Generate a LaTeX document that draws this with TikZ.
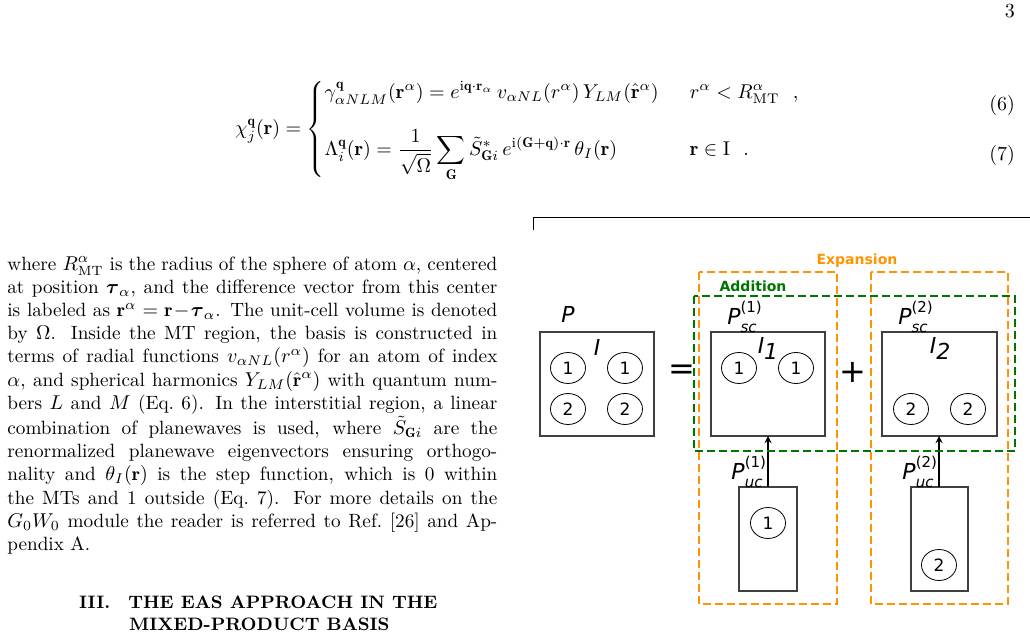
\documentclass[tikz,border=0pt]{standalone}
\usepackage{amsmath,amssymb}
\usepackage{fontspec}
\newfontfamily\dejavu{DejaVu Sans}
\usetikzlibrary{shapes.geometric}
\tikzset{
  cell/.style={draw=black!75, line width=0.6pt},
  atom/.style={draw, ellipse, minimum width=17.5pt, minimum height=15.5pt, inner sep=0pt, font=\dejavu\fontsize{8.5}{10}\selectfont},
  plab/.style={font=\dejavu\itshape\fontsize{11}{12}\selectfont, inner sep=0pt},
  expbox/.style={draw=orange!85!yellow, dashed, line width=1pt, dash pattern=on 4pt off 2pt},
  addbox/.style={draw=green!45!black, dashed, line width=1pt, dash pattern=on 4pt off 2pt},
}
\newcommand{\psub}[2]{P\rlap{\raisebox{1.0ex}{\upshape\fontsize{7.5}{8}\selectfont(#1)}}\raisebox{-0.6ex}{\fontsize{7.5}{8}\selectfont #2}}
\begin{document}
\begin{tikzpicture}[x=0.5pt, y=-0.5pt]
\useasboundingbox (0,0) rectangle (1030,641);
%page text
\node[anchor=base east] (pagenum) at (1022,18) {3};
\node[anchor=west] (eq) at (228,130) {$\chi^{\mathbf q}_j(\mathbf r)=\begin{cases}\gamma^{\mathbf q}_{\alpha NLM}(\mathbf r^\alpha)=e^{\mathrm{i}\mathbf q\cdot\mathbf r_\alpha}\,v_{\alpha NL}(r^\alpha)\,Y_{LM}(\hat{\mathbf r}^\alpha) & \;\;r^\alpha<R^\alpha_{\rm MT}\ \ ,\\[2.6ex] \Lambda^{\mathbf q}_i(\mathbf r)=\dfrac{1}{\sqrt\Omega}\displaystyle\sum_{\mathbf G}\tilde S^*_{\mathbf Gi}\,e^{\mathrm{i}(\mathbf G+\mathbf q)\cdot\mathbf r}\,\theta_I(\mathbf r) & \;\;\mathbf r\in{\rm I}\ \ .\end{cases}$};
\node[anchor=base east] (eqsix) at (1022,111) {(6)};
\node[anchor=base east] (eqseven) at (1022,161) {(7)};
\coordinate (rulestart) at (533,218);
\coordinate (ruletick) at (533,230);
\coordinate (ruleend) at (1030,218);
\draw[line width=0.5pt] (ruletick) -- (rulestart) -- (ruleend);
\node[anchor=north west, text width=245pt, align=justify, inner sep=0pt, font=\fontsize{9.6}{11.6}\selectfont] (body) at (7,256) {where $R^\alpha_{\rm MT}$ is the radius of the sphere of atom $\alpha$, centered\linebreak at position $\boldsymbol\tau_\alpha$, and the difference vector from this center\linebreak is labeled as $\mathbf r^\alpha=\mathbf r\!-\!\boldsymbol\tau_\alpha$. The unit-cell volume is denoted\linebreak by $\Omega$. Inside the MT region, the basis is constructed in\linebreak terms of radial functions $v_{\alpha NL}(r^\alpha)$ for an atom of index\linebreak $\alpha$, and spherical harmonics $Y_{LM}(\hat{\mathbf r}^\alpha)$ with quantum num-\linebreak bers $L$ and $M$ (Eq.~6). In the interstitial region, a linear\linebreak combination of planewaves is used, where $\tilde S_{\mathbf Gi}$ are the\linebreak renormalized planewave eigenvectors ensuring orthogo-\linebreak nality and $\theta_I(\mathbf r)$ is the step function, which is 0 within\linebreak the MTs and 1 outside (Eq.~7). For more details on the\linebreak $G_0W_0$ module the reader is referred to Ref.~[26] and Ap-\linebreak pendix~A.};
\node[anchor=base west, font=\small\bfseries] (headone) at (72,609) {III.\quad THE EAS APPROACH IN THE};
\node[anchor=base west, font=\small\bfseries] (headtwo) at (122,631) {MIXED-PRODUCT BASIS};
%diagram
\draw[cell] (540,332) rectangle (654,436);
\node[plab] (P) at (568,314) {P};
\node[plab] (I) at (597,347) {I};
\node[atom] (a1) at (568,368) {1};
\node[atom] (a2) at (625,368) {1};
\node[atom] (a3) at (568,409) {2};
\node[atom] (a4) at (625,409) {2};
\node[font=\dejavu\fontsize{16}{16}\selectfont] (eqsign) at (682,372) {=};
\node[font=\dejavu\fontsize{16}{16}\selectfont] (plus) at (853,372) {+};
%supercells
\draw[cell] (711,332) rectangle (825,436);
\coordinate (scone) at (768,436);
\node[plab] (Pscone) at (742,317) {\psub{1}{sc}};
\node[plab] (Ione) at (768,348) {I\raisebox{-0.5ex}{1}};
\node[atom] (b1) at (739,368) {1};
\node[atom] (b2) at (796,368) {1};
\draw[cell] (882,332) rectangle (997,436);
\coordinate (sctwo) at (939,436);
\node[plab] (Psctwo) at (913,317) {\psub{2}{sc}};
\node[plab] (Itwo) at (940,348) {I\raisebox{-0.5ex}{2}};
\node[atom] (c1) at (911,409) {2};
\node[atom] (c2) at (968,409) {2};
%unit cells
\draw[cell] (739,487) rectangle (797,591);
\coordinate (ucone) at (768,487);
\node[atom] (d1) at (768,523) {1};
\node[plab] (Pucone) at (747,472) {\psub{1}{uc}};
\draw[cell] (911,487) rectangle (968,591);
\coordinate (uctwo) at (939,487);
\node[atom] (e1) at (939,565) {2};
\node[plab] (Puctwo) at (918,472) {\psub{2}{uc}};
\draw[-stealth, line width=0.6pt] (ucone) -- (scone);
\draw[-stealth, line width=0.6pt] (uctwo) -- (sctwo);
%dashed frames
\draw[expbox] (699,272) rectangle (837,604);
\draw[expbox] (871,272) rectangle (1008,604);
\draw[addbox] (694,296) rectangle (1015,451);
\node[font=\dejavu\bfseries\fontsize{7}{8}\selectfont, text=orange!85!yellow] (exp) at (857,261) {Expansion};
\node[font=\dejavu\bfseries\fontsize{7}{8}\selectfont, text=green!45!black] (add) at (753,286) {Addition};
\end{tikzpicture}
\end{document}
